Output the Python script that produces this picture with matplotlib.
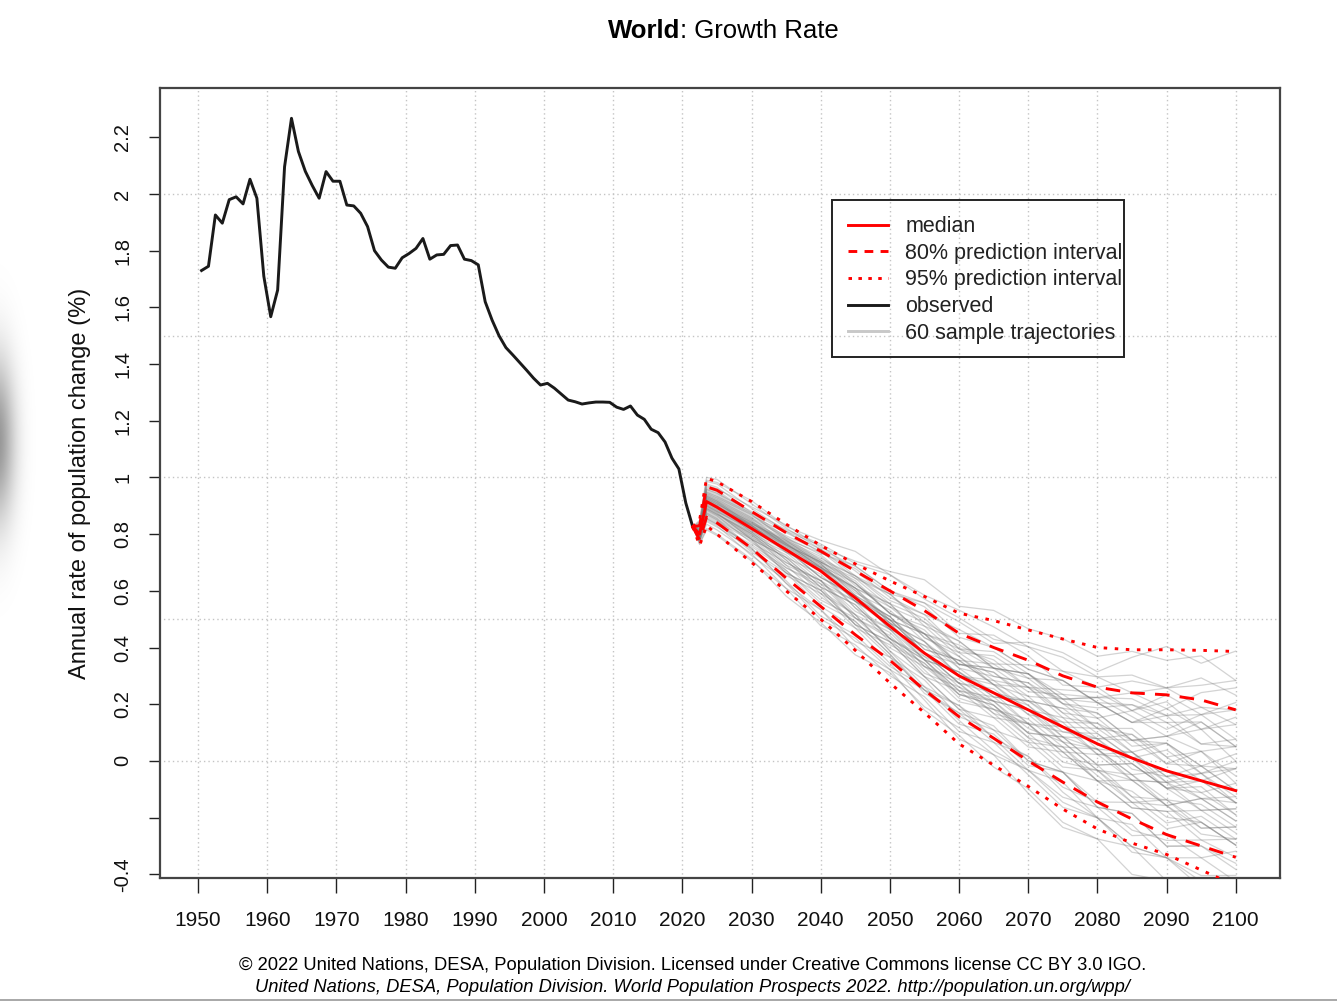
import numpy as np
import matplotlib.pyplot as plt
from matplotlib.lines import Line2D
from matplotlib.patches import Rectangle

plt.rcParams['font.family'] = ['Liberation Sans', 'DejaVu Sans']

# observed annual growth rate (%), plotted at mid-year
obs_years = np.arange(1950, 2022) + 0.5
obs_rate = [1.73, 1.745, 1.926, 1.897, 1.98, 1.99, 1.965, 2.052, 1.985, 1.71,
            1.567, 1.661, 2.096, 2.267, 2.15, 2.08, 2.03, 1.985, 2.079, 2.045,
            2.045, 1.961, 1.958, 1.932, 1.885, 1.80, 1.767, 1.742, 1.738, 1.775,
            1.79, 1.808, 1.843, 1.77, 1.785, 1.787, 1.818, 1.82, 1.77, 1.765,
            1.75, 1.62, 1.555, 1.50, 1.458, 1.432, 1.405, 1.378, 1.35, 1.326,
            1.332, 1.315, 1.294, 1.273, 1.267, 1.259, 1.263, 1.266, 1.266, 1.265,
            1.248, 1.24, 1.252, 1.22, 1.205, 1.17, 1.158, 1.125, 1.068, 1.03,
            0.91, 0.826]

# projections
proj_years = [2021.5, 2022.5, 2023.5, 2025, 2030, 2035, 2040, 2045, 2050, 2055,
              2060, 2065, 2070, 2075, 2080, 2085, 2090, 2095, 2100]
median = [0.826, 0.80, 0.915, 0.895, 0.82, 0.745, 0.67, 0.575, 0.475, 0.38,
          0.30, 0.24, 0.18, 0.12, 0.06, 0.01, -0.035, -0.07, -0.105]
hi80 = [0.826, 0.83, 0.967, 0.955, 0.88, 0.805, 0.74, 0.67, 0.60, 0.53,
        0.45, 0.40, 0.355, 0.30, 0.26, 0.24, 0.233, 0.215, 0.18]
lo80 = [0.826, 0.78, 0.86, 0.84, 0.75, 0.645, 0.545, 0.445, 0.355, 0.25,
        0.156, 0.08, 0.0, -0.075, -0.145, -0.205, -0.26, -0.30, -0.34]
hi95 = [0.826, 0.85, 0.997, 0.985, 0.915, 0.835, 0.76, 0.695, 0.635, 0.58,
        0.521, 0.495, 0.462, 0.43, 0.40, 0.392, 0.392, 0.39, 0.386]
lo95 = [0.826, 0.76, 0.83, 0.80, 0.70, 0.60, 0.50, 0.39, 0.275, 0.17,
        0.06, -0.015, -0.09, -0.17, -0.24, -0.29, -0.33, -0.385, -0.44]

# sample trajectories: position inside the band (in 80%-band units) at 2025, 2030, ..., 2100
traj_pos = [
    [0.2, 0.4, 0.3, 0.5, 0.6, 0.4, 0.5, 0.7, 0.6, 0.8, 0.7, 0.9, 1.0, 0.8, 0.9, 1.1],
    [-0.5, -0.3, -0.6, -0.8, -0.7, -0.9, -1.1, -1.0, -1.2, -1.0, -1.3, -1.4, -1.2, -1.5, -1.6, -1.4],
    [1.0, 0.8, 1.1, 1.2, 0.9, 1.0, 1.3, 1.4, 1.2, 1.5, 1.6, 1.4, 1.7, 1.8, 1.6, 1.9],
    [-1.2, -1.0, -0.8, -0.9, -0.6, -0.7, -0.4, -0.5, -0.3, -0.5, -0.2, -0.4, -0.1, -0.3, 0.0, -0.2],
    [0.0, -0.2, 0.1, 0.0, -0.3, -0.1, -0.4, -0.2, -0.5, -0.3, -0.6, -0.4, -0.7, -0.5, -0.8, -0.6],
    [0.6, 0.9, 0.7, 1.0, 1.2, 1.0, 0.8, 0.9, 0.6, 0.7, 0.5, 0.6, 0.3, 0.4, 0.2, 0.3],
    [-0.8, -1.1, -1.3, -1.2, -1.5, -1.4, -1.7, -1.6, -1.8, -1.7, -1.9, -1.8, -1.6, -1.9, -2.0, -1.8],
    [0.3, 0.1, -0.1, 0.2, 0.0, 0.3, 0.1, 0.4, 0.2, 0.5, 0.3, 0.1, 0.4, 0.2, 0.0, 0.3],
    [-0.3, 0.0, 0.2, 0.1, 0.4, 0.6, 0.5, 0.8, 0.7, 1.0, 1.2, 1.1, 1.3, 1.2, 1.4, 1.3],
    [1.5, 1.3, 1.2, 1.4, 1.1, 0.9, 1.0, 0.7, 0.8, 0.5, 0.6, 0.3, 0.4, 0.1, 0.2, 0.0],
    [-1.6, -1.4, -1.5, -1.2, -1.3, -1.0, -1.1, -0.8, -0.9, -1.1, -0.9, -1.2, -1.0, -1.3, -1.1, -1.2],
    [0.5, 0.3, 0.6, 0.4, 0.2, 0.5, 0.3, 0.0, 0.2, -0.1, 0.1, -0.2, 0.0, -0.3, -0.1, -0.4],
    [-0.1, 0.2, 0.0, -0.2, 0.1, -0.1, 0.2, 0.0, 0.3, 0.1, -0.1, 0.2, 0.0, 0.3, 0.1, 0.4],
    [0.9, 1.1, 1.3, 1.5, 1.4, 1.6, 1.5, 1.7, 1.6, 1.4, 1.5, 1.3, 1.4, 1.2, 1.3, 1.5],
    [-0.6, -0.8, -0.5, -0.3, -0.4, -0.1, -0.2, 0.1, 0.0, 0.2, 0.1, 0.4, 0.3, 0.5, 0.4, 0.6],
    [0.1, -0.2, -0.4, -0.6, -0.5, -0.8, -0.7, -0.9, -1.1, -1.0, -1.2, -1.1, -1.3, -1.2, -1.0, -1.1],
    [-1.0, -0.7, -0.9, -0.6, -0.8, -0.5, -0.7, -0.9, -0.6, -0.8, -0.5, -0.7, -0.4, -0.6, -0.3, -0.5],
    [0.4, 0.6, 0.8, 0.6, 0.9, 0.7, 0.4, 0.5, 0.2, 0.3, 0.0, 0.1, -0.2, -0.1, -0.3, -0.2],
    [-0.4, -0.6, -0.3, -0.5, -0.2, -0.4, -0.6, -0.3, -0.5, -0.7, -0.4, -0.6, -0.8, -0.5, -0.7, -0.9],
    [1.8, 1.6, 1.4, 1.2, 1.3, 1.1, 1.2, 1.0, 1.1, 0.9, 1.0, 0.8, 0.9, 0.7, 0.8, 0.6],
    [-0.2, 0.1, 0.3, 0.5, 0.3, 0.2, 0.0, -0.2, -0.4, -0.3, -0.5, -0.7, -0.6, -0.8, -0.7, -0.9],
    [0.7, 0.5, 0.3, 0.1, -0.1, 0.0, -0.2, 0.1, -0.1, 0.2, 0.0, 0.3, 0.1, 0.4, 0.2, 0.5],
    [-1.3, -1.5, -1.2, -1.4, -1.1, -1.3, -1.0, -1.2, -1.4, -1.3, -1.5, -1.4, -1.6, -1.5, -1.3, -1.5],
    [0.0, 0.3, 0.5, 0.7, 0.9, 0.8, 1.0, 1.2, 1.1, 0.9, 1.0, 0.8, 0.6, 0.7, 0.5, 0.6],
    [0.8, 0.6, 0.4, 0.2, 0.3, 0.1, -0.1, -0.3, -0.2, -0.4, -0.3, -0.5, -0.4, -0.2, -0.3, -0.1],
    [-0.7, -0.5, -0.2, -0.4, -0.1, 0.1, 0.3, 0.2, 0.4, 0.6, 0.5, 0.7, 0.9, 0.8, 1.0, 0.9],
    [0.3, 0.5, 0.2, 0.4, 0.1, 0.3, 0.0, -0.2, 0.1, -0.1, -0.3, -0.1, -0.4, -0.2, -0.5, -0.3],
    [-0.9, -0.6, -0.8, -1.0, -0.7, -0.9, -1.2, -1.0, -0.8, -1.1, -0.9, -0.7, -0.9, -0.7, -0.5, -0.7],
    [1.2, 1.4, 1.6, 1.3, 1.5, 1.7, 1.9, 1.8, 2.0, 1.8, 1.9, 1.7, 1.8, 1.6, 1.7, 1.5],
    [-0.3, -0.1, -0.3, -0.1, -0.3, -0.5, -0.3, -0.6, -0.4, -0.2, -0.4, -0.1, -0.3, 0.0, -0.2, 0.1],
    [0.2, 0.0, 0.3, 0.5, 0.8, 0.6, 0.8, 0.6, 0.4, 0.6, 0.3, 0.5, 0.2, 0.4, 0.1, 0.3],
    [-1.9, -1.7, -1.8, -1.6, -1.7, -1.5, -1.6, -1.4, -1.5, -1.3, -1.4, -1.2, -1.4, -1.1, -1.3, -1.0],
    [0.6, 0.4, 0.7, 0.5, 0.7, 0.4, 0.6, 0.3, 0.5, 0.2, 0.4, 0.6, 0.3, 0.5, 0.7, 0.4],
    [-0.5, -0.2, -0.4, -0.7, -0.5, -0.8, -1.0, -0.8, -1.1, -1.3, -1.1, -1.4, -1.6, -1.5, -1.7, -1.6],
    [0.1, 0.3, 0.6, 0.4, 0.1, -0.1, 0.2, 0.4, 0.7, 0.5, 0.8, 1.0, 0.8, 1.1, 0.9, 1.2],
    [1.3, 1.0, 0.8, 0.9, 0.6, 0.4, 0.5, 0.2, 0.0, 0.1, -0.2, -0.1, -0.3, -0.5, -0.4, -0.6],
    [-0.1, -0.3, -0.5, -0.3, -0.6, -0.4, -0.2, -0.4, -0.1, -0.3, 0.0, -0.2, 0.1, -0.1, 0.2, 0.0],
    [-1.1, -1.3, -1.0, -0.7, -0.9, -0.6, -0.3, -0.5, -0.2, 0.0, -0.2, 0.1, 0.3, 0.1, 0.4, 0.2],
    [0.4, 0.2, 0.0, 0.2, 0.4, 0.2, 0.5, 0.3, 0.6, 0.4, 0.7, 0.5, 0.8, 0.6, 0.9, 0.7],
    [-0.4, -0.6, -0.9, -1.1, -0.9, -1.2, -1.4, -1.7, -1.5, -1.8, -2.0, -1.8, -2.1, -1.9, -2.2, -2.0],
    [0.9, 0.7, 0.9, 1.1, 0.8, 1.0, 0.7, 0.9, 0.6, 0.8, 0.5, 0.3, 0.5, 0.2, 0.4, 0.1],
    [-0.2, -0.4, -0.1, 0.1, -0.1, 0.2, 0.0, 0.3, 0.5, 0.3, 0.6, 0.8, 0.6, 0.9, 0.7, 1.0],
    [0.0, 0.2, -0.1, -0.3, -0.1, -0.4, -0.2, -0.5, -0.3, -0.6, -0.4, -0.7, -0.9, -0.7, -1.0, -0.8],
    [1.6, 1.8, 1.5, 1.7, 1.9, 1.6, 1.4, 1.5, 1.3, 1.4, 1.2, 1.3, 1.1, 1.2, 1.0, 1.1],
    [-0.8, -0.6, -0.3, -0.5, -0.2, -0.4, -0.1, 0.1, -0.1, 0.2, 0.4, 0.2, 0.0, -0.2, 0.1, -0.1],
    [0.5, 0.7, 0.4, 0.2, 0.4, 0.1, 0.3, 0.0, -0.2, 0.0, -0.3, -0.5, -0.3, -0.6, -0.8, -0.6],
    [-1.4, -1.1, -1.3, -1.5, -1.2, -1.4, -1.1, -1.3, -1.0, -1.2, -0.9, -1.1, -0.8, -1.0, -0.7, -0.9],
    [0.2, 0.4, 0.1, 0.3, 0.6, 0.4, 0.7, 0.5, 0.3, 0.5, 0.2, 0.4, 0.1, -0.1, 0.1, -0.2],
    [-0.6, -0.4, -0.6, -0.3, -0.5, -0.2, -0.4, -0.1, -0.3, -0.5, -0.2, -0.4, -0.1, -0.3, -0.5, -0.3],
    [0.3, 0.1, 0.4, 0.6, 0.4, 0.7, 0.9, 0.7, 1.0, 0.8, 0.6, 0.9, 1.1, 0.9, 1.2, 1.4],
    [-0.9, -1.2, -0.9, -0.6, -0.8, -0.5, -0.7, -0.4, -0.6, -0.3, -0.5, -0.2, -0.4, -0.6, -0.3, -0.5],
    [1.1, 0.9, 0.6, 0.8, 0.5, 0.7, 0.4, 0.6, 0.9, 0.7, 1.0, 0.8, 0.6, 0.8, 0.5, 0.7],
    [-0.3, -0.5, -0.7, -0.5, -0.8, -1.0, -0.8, -1.1, -0.9, -0.7, -0.9, -1.2, -1.0, -1.3, -1.1, -1.3],
    [0.1, -0.1, 0.1, -0.2, 0.0, 0.2, 0.0, -0.2, 0.0, -0.3, -0.1, 0.1, -0.1, -0.3, -0.2, -0.4],
    [-2.0, -1.8, -1.5, -1.7, -1.4, -1.6, -1.3, -1.5, -1.2, -1.4, -1.6, -1.4, -1.7, -1.5, -1.8, -1.7],
    [0.7, 1.0, 1.2, 1.0, 1.3, 1.1, 1.3, 1.1, 1.4, 1.2, 0.9, 1.1, 0.8, 1.0, 0.7, 0.9],
    [-0.5, -0.3, 0.0, -0.2, 0.1, 0.3, 0.1, 0.4, 0.2, 0.0, 0.2, -0.1, 0.1, -0.2, 0.0, -0.2],
    [0.0, 0.2, 0.4, 0.2, -0.1, 0.1, -0.2, -0.4, -0.2, -0.5, -0.7, -0.5, -0.8, -0.6, -0.9, -0.8],
    [-1.2, -0.9, -0.7, -0.4, -0.6, -0.3, -0.5, -0.7, -0.4, -0.6, -0.8, -0.5, -0.7, -0.9, -0.6, -0.8],
    [0.4, 0.2, 0.5, 0.3, 0.0, 0.2, 0.5, 0.3, 0.6, 0.8, 0.6, 0.9, 0.7, 0.5, 0.8, 0.6],
]

x_ticks = list(range(1950, 2101, 10))
y_ticks = [-0.4, -0.2, 0, 0.2, 0.4, 0.6, 0.8, 1, 1.2, 1.4, 1.6, 1.8, 2, 2.2]
y_labels = ['-0.4', '', '0', '0.2', '0.4', '0.6', '0.8', '1', '1.2', '1.4',
            '1.6', '1.8', '2', '2.2']
y_grid = [0, 0.5, 1, 1.5, 2]

RED = '#ff0000'

fig = plt.figure(figsize=(13.37, 10.02), dpi=100)
ax = fig.add_axes([0.1197, 0.1238, 0.8377, 0.7884])

# grid
ax.vlines(x_ticks, -1, 3, colors='#c4c4c4', linestyles=(0, (1, 2.2)), linewidth=1.0, zorder=0)
ax.hlines(y_grid, 1900, 2200, colors='#c4c4c4', linestyles=(0, (1, 2.2)), linewidth=1.0, zorder=0)

# sample trajectories, placed in the band around the median
med = np.array(median)
up = (np.array(hi80) - med) / 1.1
dn = (med - np.array(lo80)) / 1.1
for row in traj_pos:
    z = np.array([0.0, row[0], row[0]] + row)
    vals = med + np.where(z > 0, z * up, z * dn)
    ax.plot(proj_years, vals, color='#7a7a7a', alpha=0.33, linewidth=0.9, zorder=1)

ax.plot(obs_years, obs_rate, color='#1a1a1a', linewidth=2.1, zorder=4)
ax.plot(proj_years, median, color=RED, linewidth=2.1, zorder=5)
ax.plot(proj_years, hi80, color=RED, linewidth=2.1, dashes=(5, 3.5), zorder=5)
ax.plot(proj_years, lo80, color=RED, linewidth=2.1, dashes=(5, 3.5), zorder=5)
ax.plot(proj_years, hi95, color=RED, linewidth=2.1, dashes=(1.2, 2.6), zorder=5)
ax.plot(proj_years, lo95, color=RED, linewidth=2.1, dashes=(1.2, 2.6), zorder=5)

ax.set_xlim(1944.5, 2106.4)
ax.set_ylim(-0.413, 2.374)
ax.set_xticks(x_ticks)
ax.set_xticklabels([str(t) for t in x_ticks], fontsize=15, color='#111111')
ax.set_yticks(y_ticks)
ax.set_yticklabels(y_labels, fontsize=14.5, rotation=90, va='center', color='#111111')
ax.tick_params(axis='x', length=11, width=1.0, pad=13, color='#222222')
ax.tick_params(axis='y', length=8, width=1.0, pad=12, color='#222222')
for sp in ax.spines.values():
    sp.set_linewidth(1.6)
    sp.set_color('#444444')

ax.set_ylabel('Annual rate of population change (%)', fontsize=17, labelpad=16, color='#111111')

handles = [
    Line2D([], [], color=RED, linewidth=2.1),
    Line2D([], [], color=RED, linewidth=2.1, dashes=(3, 2.5)),
    Line2D([], [], color=RED, linewidth=2.1, dashes=(1.2, 2.2)),
    Line2D([], [], color='#1a1a1a', linewidth=2.1),
    Line2D([], [], color='#c8c8c8', linewidth=2.1),
]
labels = ['median', '80% prediction interval', '95% prediction interval',
          'observed', '60 sample trajectories']
leg = ax.legend(handles, labels, loc='upper left', bbox_to_anchor=(0.6, 0.858),
                fontsize=15.5, frameon=False, handlelength=1.86,
                handletextpad=0.8, labelspacing=0.26, borderpad=0.75,
                borderaxespad=0)
for t in leg.get_texts():
    t.set_color('#222222')
ax.add_patch(Rectangle((0.6, 0.6595), 0.2607, 0.1987, transform=ax.transAxes,
                       fill=False, edgecolor='#222222', linewidth=1.4, zorder=6))

# title: bold region name followed by the variable
fig.text(0.5086, 0.969, 'World', fontsize=18.5, fontweight='bold', ha='right', va='center')
fig.text(0.5086, 0.969, ': Growth Rate', fontsize=18.5, ha='left', va='center')

fig.text(0.518, 0.036, '\u00a9 2022 United Nations, DESA, Population Division. Licensed under '
         'Creative Commons license CC BY 3.0 IGO.', fontsize=13.2, ha='center', va='center')
fig.text(0.518, 0.014, 'United Nations, DESA, Population Division. World Population '
         'Prospects 2022. http://population.un.org/wpp/', fontsize=13.2,
         style='italic', ha='center', va='center')

# blurred shadow at left edge of the page
gy, gx = np.mgrid[0:500, 0:60]
alpha = 0.42 * np.exp(-((gx + 4) ** 2 / (2 * 13.0 ** 2) + (gy - 200) ** 2 / (2 * 58.0 ** 2)))
shade = np.zeros((500, 60, 4))
shade[..., 3] = alpha
sax = fig.add_axes([0, (1002 - 740) / 1002, 60 / 1337, 500 / 1002])
sax.imshow(shade, aspect='auto', interpolation='bilinear')
sax.axis('off')

fig.add_artist(Line2D([0, 1], [0.0015, 0.0015], color='#999999', linewidth=1.2))

fig.savefig('out.png', dpi=100)
